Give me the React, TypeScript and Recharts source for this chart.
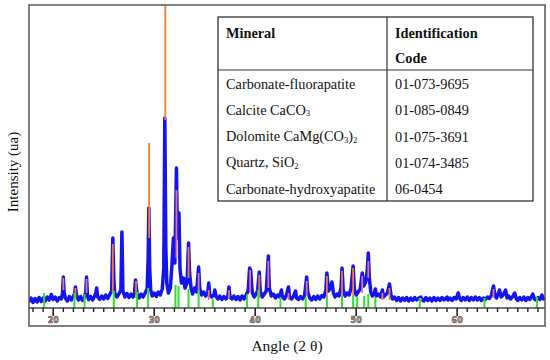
import React from "react";
import { LineChart, Line, XAxis, YAxis } from "recharts";

// 2θ angle domain and intensity domain (arbitrary units)
const angleDomain: [number, number] = [17.6, 68.7];
const intensityDomain: [number, number] = [0, 3030];

const minorTicks = [18,19,20,21,22,23,24,25,26,27,28,29,30,31,32,33,34,35,36,37,38,39,40,41,42,43,44,45,46,47,48,49,50,51,52,53,54,55,56,57,58,59,60,61,62,63,64,65,66,67,68];
const majorTicks = [20, 30, 40, 50, 60];

// observed diffractogram [2θ, intensity]
const observed: [number, number][] = [
  [17.6,60],[17.8,100],[18.0,55],[18.2,95],[18.4,60],[18.6,105],[18.8,65],[19.0,100],[19.2,70],[19.4,110],[19.6,80],[19.8,135],[20.0,85],[20.2,110],[20.4,70],[20.6,105],[20.8,90],
  [20.92,150],[21.0,310],[21.08,150],
  [21.2,100],[21.4,70],[21.6,115],[21.8,80],[22.0,120],
  [22.12,140],[22.2,210],[22.3,130],
  [22.5,80],[22.7,115],[22.9,75],[23.1,110],
  [23.22,160],[23.3,310],[23.38,140],
  [23.5,85],[23.7,115],[23.9,80],[24.1,120],
  [24.22,150],[24.3,200],[24.4,110],
  [24.6,85],[24.8,120],[25.0,90],[25.2,130],[25.4,95],[25.6,135],
  [25.78,170],[25.9,700],[26.0,300],[26.08,150],
  [26.3,110],[26.5,140],
  [26.7,180],[26.8,760],[26.9,170],
  [27.1,110],[27.3,145],[27.5,105],[27.7,140],[27.9,110],[28.05,150],
  [28.15,280],[28.3,140],
  [28.5,100],[28.7,140],[28.9,110],[29.1,150],[29.3,190],
  [29.4,500],[29.47,1000],[29.55,400],[29.65,180],
  [29.8,120],[30.0,150],[30.2,115],[30.4,160],[30.6,130],[30.8,190],
  [30.95,400],[31.05,1900],[31.15,600],[31.25,250],
  [31.4,150],[31.6,200],[31.75,420],[31.9,700],[32.05,450],[32.2,1400],[32.3,700],[32.45,950],[32.55,400],[32.7,250],[32.9,300],[33.05,200],
  [33.25,250],[33.4,650],[33.5,350],[33.65,200],
  [33.8,140],[34.0,200],[34.2,160],
  [34.4,410],[34.5,200],
  [34.7,130],[34.9,160],[35.1,120],
  [35.3,150],[35.4,250],[35.5,130],
  [35.7,110],[35.9,130],[36.0,180],[36.15,110],
  [36.3,90],[36.5,120],[36.7,85],[36.9,115],[37.1,90],[37.3,120],[37.4,210],[37.5,110],
  [37.7,90],[37.9,120],[38.1,85],[38.3,115],[38.5,80],[38.7,120],[38.9,90],[39.1,130],[39.3,170],
  [39.45,400],[39.55,380],[39.7,160],
  [39.9,110],[40.1,140],[40.25,180],[40.4,360],[40.5,170],
  [40.7,110],[40.9,140],[41.1,170],[41.3,520],[41.4,200],
  [41.6,120],[41.8,140],[42.0,100],[42.2,130],[42.4,110],[42.6,180],[42.7,110],
  [42.9,90],[43.1,130],[43.3,210],[43.4,110],[43.6,90],[43.8,120],[44.0,170],[44.1,100],
  [44.3,85],[44.5,115],[44.7,90],[44.9,130],[45.1,310],[45.2,160],[45.4,100],
  [45.6,80],[45.8,115],[46.0,85],[46.2,120],[46.4,90],[46.6,125],[46.8,110],[47.0,180],[47.1,350],[47.25,170],[47.45,200],[47.6,260],[47.75,150],
  [47.9,110],[48.1,140],[48.3,120],[48.5,200],[48.6,400],[48.72,180],
  [48.9,120],[49.1,150],[49.3,130],[49.5,200],[49.7,420],[49.82,190],
  [50.0,130],[50.2,160],[50.4,190],[50.6,350],[50.75,220],[50.95,260],[51.1,380],[51.2,550],[51.3,300],[51.45,160],
  [51.6,120],[51.8,150],[51.9,190],[52.0,120],[52.2,140],[52.4,110],[52.6,180],[52.7,110],
  [52.9,130],[53.1,150],[53.3,240],[53.45,130],
  [53.6,90],[53.8,110],[54.0,75],[54.2,105],[54.4,70],[54.6,100],[54.8,75],[55.0,105],[55.2,70],[55.4,100],[55.6,75],[55.8,105],[56.0,80],[56.2,100],[56.4,110],[56.55,80],
  [56.7,70],[56.9,105],[57.1,75],[57.3,100],[57.5,70],[57.7,105],[57.9,75],[58.1,100],[58.3,75],[58.5,105],[58.7,80],[59.0,110],[59.1,80],[59.3,100],[59.5,75],[59.7,105],[59.9,90],[60.1,150],[60.25,95],
  [60.4,75],[60.6,105],[60.8,80],[61.0,110],[61.2,75],[61.4,105],[61.6,80],[61.8,110],[62.0,80],[62.2,105],[62.4,75],[62.6,100],[62.8,85],[63.0,110],[63.2,95],[63.4,130],[63.6,220],[63.75,120],[63.9,100],[64.05,140],[64.2,180],[64.35,110],[64.55,130],[64.8,180],[64.95,100],[65.1,120],[65.3,90],[65.5,115],[65.7,150],[65.85,95],
  [66.0,75],[66.2,105],[66.4,80],[66.6,110],[66.8,75],[67.0,105],[67.2,85],[67.5,140],[67.65,90],[67.8,80],[68.0,105],[68.2,85],[68.4,130],[68.55,90],[68.7,95],
];

// reference sticks [2θ, low, high]
const orangeSticks: [number, number, number][] = [
  [22.2,100,200],[25.9,150,640],[28.2,100,270],[29.5,700,1650],[31.1,1880,3030],[33.4,300,610],
  [40.4,100,330],[47.1,100,320],[48.6,100,370],[49.7,100,400],[52.6,80,150],[53.3,80,200],
];
const pinkSticks: [number, number, number][] = [
  [21.0,180,300],[23.3,150,290],[32.2,500,1180],[34.4,150,350],[35.4,80,180],[37.4,100,180],
  [39.5,150,380],[41.3,200,470],[43.3,80,150],[45.1,120,270],[50.6,150,320],[51.2,300,470],
  [56.4,60,100],[63.6,100,190],
];
const greenSticks: [number, number, number][] = [
  [19.1,0,150],[22.1,0,150],[23.1,0,140],[26.0,0,170],[28.3,0,160],[29.4,0,200],[32.1,0,230],
  [32.4,0,220],[33.4,0,190],[34.4,0,180],[35.8,0,90],[39.2,0,140],[40.3,0,180],[42.5,0,110],
  [45.0,0,110],[47.1,0,110],[48.6,0,120],[49.7,0,120],[50.1,0,110],[50.8,0,120],[51.2,0,140],
  [51.9,0,110],[56.3,0,100],[62.7,0,100],[67.9,0,110],
];

// table content
const tableHeader = ["Mineral", "Identification", "Code"];
const minerals: [string, boolean][][] = [
  [["Carbonate-fluorapatite", false]],
  [["Calcite CaCO", false], ["3", true]],
  [["Dolomite CaMg(CO", false], ["3", true], [")", false], ["2", true]],
  [["Quartz, SiO", false], ["2", true]],
  [["Carbonate-hydroxyapatite", false]],
];
const codes = ["01-073-9695", "01-085-0849", "01-075-3691", "01-074-3485", "06-0454"];

const xLabel = "Angle (2 θ)";
const yLabel = "Intensity (ua)";

const obsData = observed.map(([x, y]) => ({ x, y }));
function stickSeries(sticks: [number, number, number][]) {
  const out: { x: number; y: number | null }[] = [];
  for (const [x, lo, hi] of sticks) {
    out.push({ x, y: lo }, { x, y: hi }, { x, y: null });
  }
  return out;
}

const serif = "'Liberation Serif', 'DejaVu Serif', serif";
const tableFont = 14.3;

const Tick = (props: any) => {
  const { x, y, payload } = props;
  const major = majorTicks.includes(payload.value);
  return (
    <g>
      <line x1={x} x2={x} y1={y} y2={y + (major ? 8 : 4)} stroke="#222" strokeWidth={major ? 1.6 : 1.4} />
      {major && (
        <text x={x} y={y + 15} textAnchor="middle" fontSize={8} fontWeight="bold" fontFamily="'DejaVu Sans', sans-serif" fill="#e0a020" stroke="#2a3a90" strokeWidth={0.5}>
          {payload.value}
        </text>
      )}
    </g>
  );
};

export default function App() {
  const rowY = [84, 110, 136.5, 162.5, 189];
  return (
    <div style={{ position: "absolute", left: 0, top: 0, width: 550, height: 360, background: "#fff" }}>
      <LineChart width={550} height={360} margin={{ top: 5, right: 5, left: 29, bottom: 0 }}>
        <XAxis
          dataKey="x"
          type="number"
          domain={angleDomain}
          allowDataOverflow
          ticks={minorTicks}
          interval={0}
          height={52}
          tickSize={0}
          tickMargin={0}
          tickLine={false}
          axisLine={{ stroke: "#444", strokeWidth: 1.5 }}
          tick={<Tick />}
        />
        <YAxis hide domain={intensityDomain} allowDataOverflow type="number" />
        <Line data={obsData} dataKey="y" stroke="#1414f0" strokeWidth={3.5} dot={false} isAnimationActive={false} strokeLinejoin="round" />
        <Line data={stickSeries(orangeSticks)} dataKey="y" stroke="#f0802a" strokeWidth={1.8} dot={false} isAnimationActive={false} connectNulls={false} />
        <Line data={stickSeries(pinkSticks)} dataKey="y" stroke="#e07880" strokeWidth={1.8} dot={false} isAnimationActive={false} connectNulls={false} />
        <Line data={stickSeries(greenSticks)} dataKey="y" stroke="#30e030" strokeWidth={2} dot={false} isAnimationActive={false} connectNulls={false} />
      </LineChart>
      <svg width={550} height={360} style={{ position: "absolute", left: 0, top: 0, pointerEvents: "none" }}>
        <rect x={29} y={5} width={516} height={321} fill="none" stroke="#555" strokeWidth={1.5} />
        <rect x={218} y={17} width={315} height={184} fill="#fff" stroke="#333" strokeWidth={1.3} />
        <line x1={218} x2={533} y1={70} y2={70} stroke="#333" strokeWidth={1.2} />
        <line x1={387} x2={387} y1={17} y2={201} stroke="#333" strokeWidth={1.2} />
        <g fontFamily={serif} fontSize={tableFont} fill="#111">
          <text x={226} y={33} dominantBaseline="central" fontWeight="bold">{tableHeader[0]}</text>
          <text x={395} y={33} dominantBaseline="central" fontWeight="bold">{tableHeader[1]}</text>
          <text x={395} y={58} dominantBaseline="central" fontWeight="bold">{tableHeader[2]}</text>
          {minerals.map((parts, i) => (
            <text key={i} x={226} y={rowY[i] + 4.8}>
              {parts.map(([t, sub], j) => (
                <tspan key={j} fontSize={sub ? 8.5 : tableFont} dy={sub ? 1.5 : j > 0 ? -1.5 : 0}>{t}</tspan>
              ))}
            </text>
          ))}
          {codes.map((c, i) => (
            <text key={i} x={395} y={rowY[i]} dominantBaseline="central">{c}</text>
          ))}
        </g>
        <text x={287} y={345} textAnchor="middle" dominantBaseline="central" fontFamily={serif} fontSize={15.5} fill="#111">{xLabel}</text>
        <text x={13} y={172} textAnchor="middle" dominantBaseline="central" fontFamily={serif} fontSize={15} fill="#111" transform="rotate(-90 13 172)">{yLabel}</text>
      </svg>
    </div>
  );
}
